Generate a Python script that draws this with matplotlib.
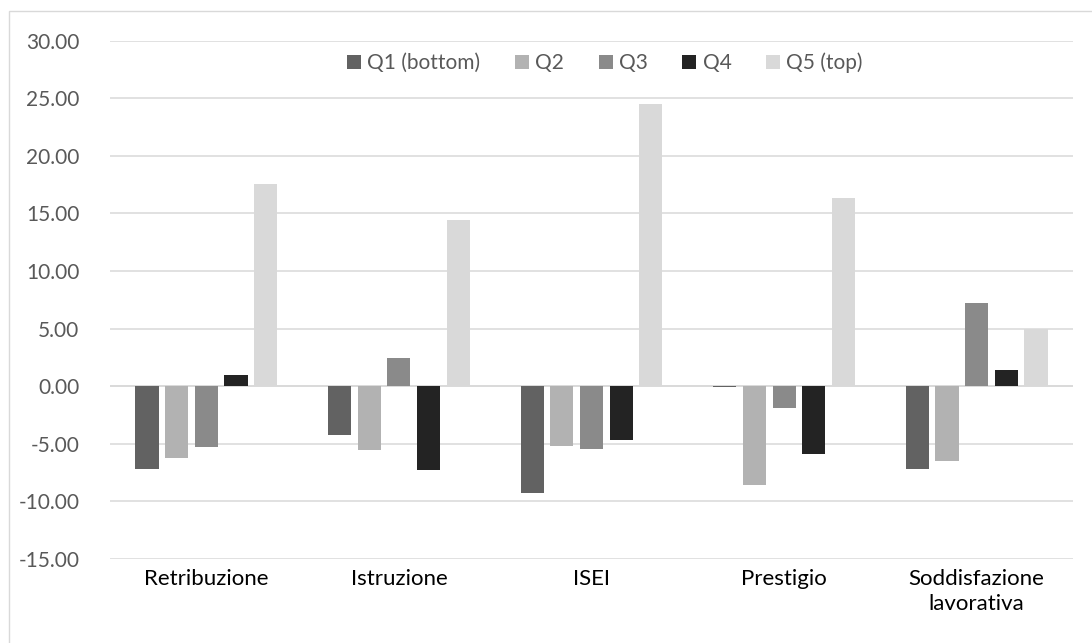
import matplotlib
matplotlib.use("Agg")
from matplotlib import pyplot as plt
from matplotlib.patches import Rectangle
import numpy as np

plt.rcParams['font.family'] = ['Lato', 'DejaVu Sans']

categorie = ['Retribuzione', 'Istruzione', 'ISEI', 'Prestigio', 'Soddisfazione\nlavorativa']
serie = ['Q1 (bottom)', 'Q2', 'Q3', 'Q4', 'Q5 (top)']
q1 = [-7.15, -4.20, -9.26, -0.08, -7.20]
q2 = [-6.20, -5.53, -5.21, -8.60, -6.45]
q3 = [-5.24, 2.46, -5.41, -1.91, 7.26]
q4 = [0.95, -7.24, -4.63, -5.90, 1.41]
q5 = [17.56, 14.43, 24.50, 16.37, 4.95]
colori = ['#626262', '#b2b2b2', '#8a8a8a', '#232323', '#d9d9d9']
tick_y = [-15, -10, -5, 0, 5, 10, 15, 20, 25, 30]

W, H = 1092, 643
fig = plt.figure(figsize=(W / 100, H / 100), dpi=100)

# bordo del grafico (stile Excel)
fig.patches.append(Rectangle((8.5 / W, -0.1), 1.2, 1.1 - 11.5 / H, transform=fig.transFigure,
                             fill=False, edgecolor='#d9d9d9', linewidth=1.0))

ax = fig.add_axes([110 / W, (H - 559) / H, (1073 - 110) / W, (559 - 40.6) / H])

x = np.arange(len(categorie))
passo = 0.154
larghezza = 0.12
for i, (nome, valori) in enumerate(zip(serie, [q1, q2, q3, q4, q5])):
    ax.bar(x + (i - 2) * passo, valori, larghezza, color=colori[i], label=nome, zorder=3)

ax.set_xlim(-0.5, len(categorie) - 0.5)
ax.set_ylim(-15, 30)
ax.set_yticks(tick_y)
ax.set_yticklabels([f'{v:.2f}' for v in tick_y])
ax.set_xticks(x)
ax.set_xticklabels(categorie, va='top', ha='center', linespacing=1.32)

ax.grid(axis='y', color='#d9d9d9', linewidth=1.1, zorder=0)
ax.axhline(0, color='#d9d9d9', linewidth=1.1, zorder=1)
for s in ax.spines.values():
    s.set_visible(False)
ax.tick_params(axis='y', length=0, pad=22, labelsize=15, labelcolor='#595959')
ax.tick_params(axis='x', length=0, pad=7, labelsize=16, labelcolor='#000000')

fig.legend(loc='center', bbox_to_anchor=(605 / W, 1 - 63 / H), ncol=5, frameon=False,
           fontsize=15, labelcolor='#595959', handlelength=0.68, handleheight=0.68,
           handletextpad=0.3, columnspacing=1.65)

fig.savefig('out.png', dpi=100)
